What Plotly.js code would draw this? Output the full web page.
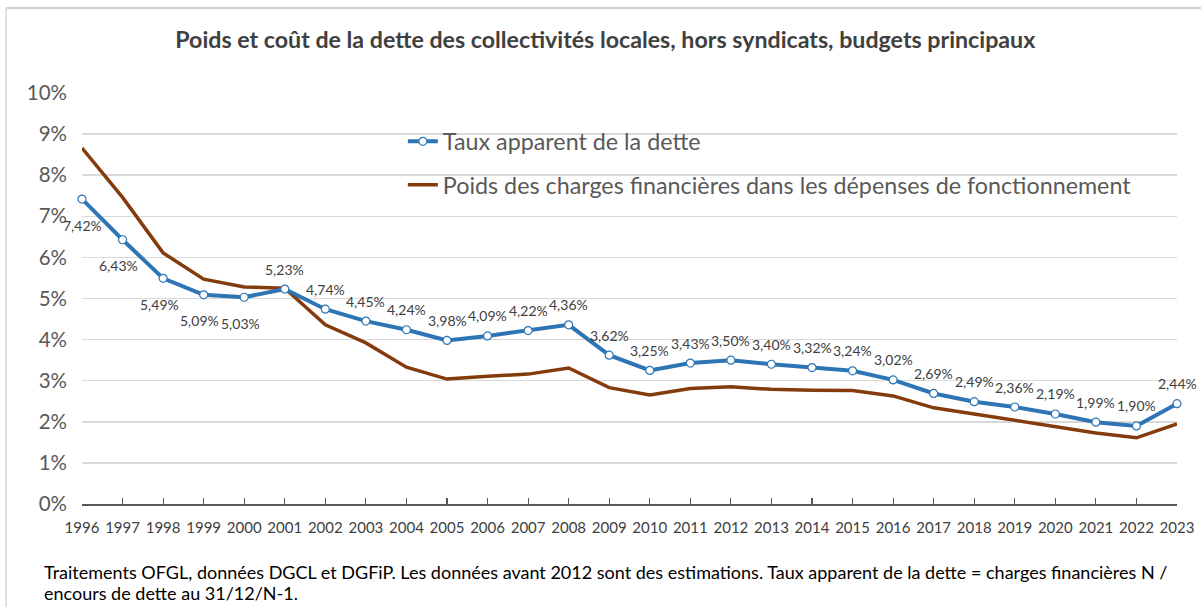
<!DOCTYPE html>
<html>
<head>
<meta charset="utf-8">
<script src="https://cdn.plot.ly/plotly-3.0.1.min.js"></script>
<style>html,body{margin:0;padding:0;background:#fff;}#chart{width:1201px;height:607px;}</style>
</head>
<body>
<div id="chart"></div>
<script>
const years = [1996,1997,1998,1999,2000,2001,2002,2003,2004,2005,2006,2007,2008,2009,2010,2011,2012,2013,2014,2015,2016,2017,2018,2019,2020,2021,2022,2023];
const tauxApparent = [7.42,6.43,5.49,5.09,5.03,5.23,4.74,4.45,4.24,3.98,4.09,4.22,4.36,3.62,3.25,3.43,3.50,3.40,3.32,3.24,3.02,2.69,2.49,2.36,2.19,1.99,1.90,2.44];
const poidsCharges = [8.66,7.46,6.11,5.47,5.28,5.25,4.36,3.92,3.33,3.04,3.11,3.16,3.31,2.83,2.65,2.81,2.85,2.79,2.77,2.76,2.63,2.34,2.19,2.04,1.90,1.73,1.61,1.95];
const yTicks = [0,1,2,3,4,5,6,7,8,9,10];
const seriesNames = ["Taux apparent de la dette","Poids des charges financières dans les dépenses de fonctionnement"];
const titleText = "Poids et coût de la dette des collectivités locales, hors syndicats, budgets principaux";
const noteLines = ["Traitements OFGL, données DGCL et DGFiP. Les données avant 2012 sont des estimations. Taux apparent de la dette = charges financières N /", "encours de dette au 31/12/N-1."];

const FONT = "Lato, 'Open Sans', sans-serif";
const fmt = v => v.toFixed(2).replace('.', ',') + '%';

// brown drawn first so the blue line lies on top; legendrank keeps the legend order
const traces = [
  {
    x: years, y: poidsCharges, type: 'scatter', mode: 'lines',
    name: seriesNames[1], legendgroup: 'b', legendrank: 2,
    line: {color: '#843C0C', width: 3.5}
  },
  {
    x: years, y: tauxApparent, type: 'scatter', mode: 'lines+markers',
    name: seriesNames[0], legendgroup: 'a', legendrank: 1,
    line: {color: '#2E75B6', width: 4},
    marker: {size: 8, color: '#FFFFFF', line: {color: '#2E75B6', width: 1.2}},
    cliponaxis: false
  }
];

const annotations = years.map((yr, i) => {
  const below = i < 5;
  return {
    x: yr, y: tauxApparent[i], xref: 'x', yref: 'y',
    text: fmt(tauxApparent[i]), showarrow: false,
    font: {family: FONT, size: 14, color: '#404040'},
    xshift: below ? (i === 0 ? 0 : -4) : 0, yshift: below ? -26 : 20
  };
});
noteLines.forEach((line, k) => {
  annotations.push({
    xref: 'paper', yref: 'paper', x: (42-82)/1095, y: (504-(572 + 21*k))/411,
    xanchor: 'left', yanchor: 'middle', align: 'left',
    text: line, showarrow: false,
    font: {family: FONT, size: 18, color: '#000000'}
  });
});

const layout = {
  width: 1201, height: 607,
  margin: {l: 82, r: 24, t: 93, b: 103},
  paper_bgcolor: '#FFFFFF', plot_bgcolor: '#FFFFFF',
  title: {
    text: '<b>' + titleText + '</b>',
    x: 0.504, xref: 'container', xanchor: 'center',
    y: 1 - 40/607, yref: 'container', yanchor: 'middle',
    font: {family: FONT, size: 23.2, color: '#404040'}
  },
  xaxis: {
    range: [1996, 2023], tickmode: 'array', tickvals: years, ticktext: years.map(String),
    showgrid: false, zeroline: false, showline: true, linecolor: '#595959', linewidth: 1.5,
    ticks: 'inside', ticklen: 6, tickcolor: '#595959', tickwidth: 1.2,
    tickfont: {family: FONT, size: 15, color: '#404040'}, tickangle: 0, ticklabelstandoff: 9
  },
  yaxis: {
    range: [0, 10], tickmode: 'array', tickvals: yTicks, ticktext: yTicks.map(v => v + '%'),
    showgrid: true, gridcolor: '#D9D9D9', gridwidth: 1.5, zeroline: false, showline: false,
    tickfont: {family: FONT, size: 20.5, color: '#595959'}, ticklabelstandoff: 14
  },
  showlegend: true,
  legend: {
    x: 0.293, y: 0.935, xanchor: 'left', yanchor: 'top', bgcolor: 'rgba(0,0,0,0)',
    font: {family: FONT, size: 23.3, color: '#595959'}, traceorder: 'grouped', tracegroupgap: 10,
    itemwidth: 30
  },
  annotations: annotations,
  shapes: [
    {type: 'line', xref: 'paper', yref: 'paper', x0: (6-82)/1095, x1: (1201-82)/1095, y0: (504-8)/411, y1: (504-8)/411, line: {color: '#D0D0D0', width: 2}},
    {type: 'line', xref: 'paper', yref: 'paper', x0: (6-82)/1095, x1: (6-82)/1095, y0: (504-8)/411, y1: (504-607)/411, line: {color: '#E0E0E0', width: 2}}
  ]
};

Plotly.newPlot('chart', traces, layout, {displayModeBar: false, staticPlot: true});
</script>
</body>
</html>
